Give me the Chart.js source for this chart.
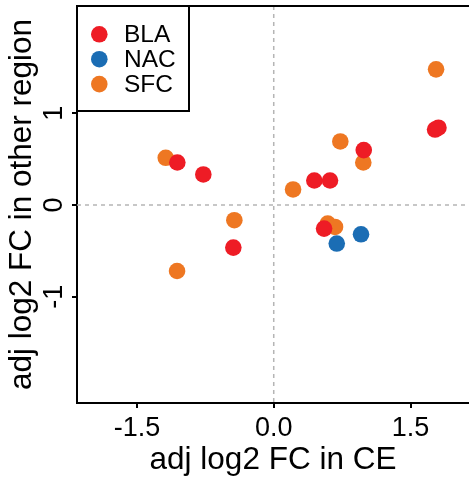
<!DOCTYPE html>
<html>
<head>
<meta charset="utf-8">
<script src="https://cdn.jsdelivr.net/npm/chart.js@4/dist/chart.umd.min.js"></script>
<style>
  html, body { margin: 0; padding: 0; background: #ffffff; overflow: hidden; width: 469px; height: 483px; }
  #wrap { width: 469px; height: 483px; position: relative; }
</style>
</head>
<body>
<div id="wrap"><canvas id="c"></canvas></div>
<script>
// ---- data ----
const seriesNames = ["BLA", "NAC", "SFC"];
const seriesColors = ["#EE1C25", "#1B6DB4", "#EE7722"];

const blaX = [-1.057, -0.772, -0.443, 0.445, 0.617, 0.987, 1.769, 1.806, 0.552];
const blaY = [0.462, 0.332, -0.465, 0.266, 0.266, 0.597, 0.821, 0.841, -0.258];

const nacX = [0.691, 0.957];
const nacY = [-0.421, -0.320];

const sfcX = [-1.184, -0.432, -1.060, 0.212, 0.730, 0.982, 1.780, 0.592, 0.672];
const sfcY = [0.513, -0.167, -0.720, 0.168, 0.691, 0.462, 1.477, -0.203, -0.240];

const xTicks = [-1.5, 0, 1.5];
const xTickLabels = ["-1.5", "0.0", "1.5"];
const yTicks = [-1, 0, 1];
const yTickLabels = ["-1", "0", "1"];

const xTitle = "adj log2 FC in CE";
const yTitle = "adj log2 FC in other region";

// ---- build ----
const FONT = "'Liberation Sans', Arial, Helvetica, sans-serif";
function pts(xs, ys) { return xs.map((x, i) => ({x: x, y: ys[i]})); }
const seriesData = [pts(blaX, blaY), pts(nacX, nacY), pts(sfcX, sfcY)];
const drawOrder = [0, 2, 1];

const datasets = seriesNames.map((n, i) => ({
  label: n,
  data: seriesData[i],
  backgroundColor: seriesColors[i],
  borderWidth: 0,
  pointRadius: 8.3,
  pointHoverRadius: 8.3,
  order: drawOrder[i]
}));

const frame = {
  id: 'frame',
  beforeDatasetsDraw(chart) {
    const {ctx, chartArea: a, scales} = chart;
    const x0 = scales.x.getPixelForValue(0);
    const y0 = scales.y.getPixelForValue(0);
    ctx.save();
    ctx.strokeStyle = '#B5B5B5';
    ctx.lineWidth = 1.5;
    ctx.setLineDash([4, 4]);
    ctx.beginPath();
    ctx.moveTo(x0, a.top); ctx.lineTo(x0, a.bottom);
    ctx.moveTo(a.left, y0); ctx.lineTo(a.right, y0);
    ctx.stroke();
    ctx.restore();
  },
  afterDraw(chart) {
    const {ctx, chartArea: a} = chart;
    ctx.save();
    ctx.strokeStyle = '#000';
    ctx.lineWidth = 2;
    ctx.beginPath();
    ctx.moveTo(a.left - 1, a.top); ctx.lineTo(chart.width, a.top);
    ctx.stroke();
    // legend box
    const L = a.left, T = a.top, W = 112, H = 105;
    ctx.fillStyle = '#fff';
    ctx.fillRect(L, T, W, H);
    ctx.strokeRect(L, T, W, H);
    chart.data.datasets.forEach((ds, i) => {
      const cy = T + 28.3 + i * 24.9;
      ctx.beginPath();
      ctx.fillStyle = ds.backgroundColor;
      ctx.arc(L + 22.3, cy, 8.3, 0, Math.PI * 2);
      ctx.fill();
      ctx.fillStyle = '#000';
      ctx.font = '24.5px ' + FONT;
      ctx.textBaseline = 'middle';
      ctx.textAlign = 'left';
      ctx.fillText(ds.label, L + 47, cy + 1);
    });
    ctx.restore();
  }
};

new Chart(document.getElementById('c'), {
  type: 'scatter',
  data: { datasets: datasets },
  options: {
    responsive: true,
    maintainAspectRatio: false,
    animation: false,
    layout: { autoPadding: false, padding: { top: 6, left: 0, right: 0, bottom: 0 } },
    plugins: { legend: { display: false }, tooltip: { enabled: false } },
    scales: {
      x: {
        type: 'linear',
        position: 'bottom',
        min: -2.157, max: 2.141,
        afterBuildTicks(s) { s.ticks = xTicks.map(v => ({value: v})); },
        afterFit(s) { s.height = 80; s.paddingLeft = 0; s.paddingRight = 0; },
        ticks: {
          color: '#000',
          font: { family: FONT, size: 27 },
          padding: 4,
          maxRotation: 0, minRotation: 0,
          callback: (v) => xTickLabels[xTicks.indexOf(v)]
        },
        grid: { display: true, drawOnChartArea: false, color: '#000', lineWidth: 2, tickLength: 5 },
        border: { display: true, color: '#000', width: 2 },
        title: { display: true, text: xTitle, color: '#000', font: { family: FONT, size: 31.5 }, padding: { top: 0, bottom: 3.3 } }
      },
      y: {
        type: 'linear',
        position: 'left',
        min: -2.158, max: 2.167,
        afterBuildTicks(s) { s.ticks = yTicks.map(v => ({value: v})); },
        afterFit(s) { s.width = 77; s.paddingTop = 0; s.paddingBottom = 0; s.paddingLeft = 0; s.paddingRight = 0; },
        ticks: {
          color: '#000',
          font: { family: FONT, size: 27 },
          padding: 5,
          minRotation: 90, maxRotation: 90,
          crossAlign: 'center',
          callback: (v) => yTickLabels[yTicks.indexOf(v)]
        },
        grid: { display: true, drawOnChartArea: false, color: '#000', lineWidth: 2, tickLength: 5 },
        border: { display: true, color: '#000', width: 2 },
        title: { display: true, text: yTitle, color: '#000', font: { family: FONT, size: 31.5 }, padding: { top: 3.5, bottom: 0 } }
      }
    }
  },
  plugins: [frame]
});
</script>
</body>
</html>
